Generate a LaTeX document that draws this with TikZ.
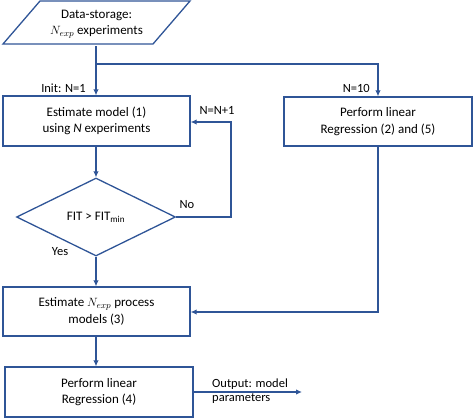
\documentclass[tikz,border=0pt]{standalone}
\usepackage{fontspec}
\setmainfont{Carlito}
\usetikzlibrary{shapes.geometric,arrows.meta}
\definecolor{lineblue}{HTML}{2F5597}
\begin{document}
\begin{tikzpicture}[x=1pt,y=-1pt,
 box/.style={draw=lineblue,line width=1.3pt,rectangle,align=center,inner sep=0pt,font=\fontsize{13}{16.5}\selectfont},
 lbl/.style={font=\fontsize{12.5}{14}\selectfont,inner sep=0pt},
 conn/.style={draw=lineblue,line width=1.8pt,-{Latex[length=6pt,width=5.5pt]}},
 seg/.style={draw=lineblue,line width=1.8pt}]
\useasboundingbox (0,0) rectangle (474,418);
% data storage parallelogram
\draw[lineblue,line width=1.3pt] (3,44) -- (153,44) -- (190,1) -- (40,1) -- cycle;
\node[align=center,inner sep=0pt,minimum width=187pt,minimum height=43pt,font=\fontsize{13}{16}\selectfont] (ds) at (96.5,24.5) {Data-storage:\\$N_{exp}$ experiments};
% boxes
\node[box,minimum width=187pt,minimum height=50pt] (b1) at (96.5,121) {Estimate model (1)\\using \textit{N} experiments};
\node[box,minimum width=188pt,minimum height=49pt] (b2) at (378,121.5) {Perform linear\\Regression (2) and (5)};
\node[draw=lineblue,line width=1.3pt,diamond,minimum width=159pt,minimum height=78pt,inner sep=0pt,font=\fontsize{13}{15}\selectfont] (d) at (96,217) {FIT > FIT\textsubscript{min}};
\node[box,minimum width=187pt,minimum height=49pt] (b3) at (96.5,311.5) {Estimate $N_{exp}$ process\\models (3)};
\node[box,minimum width=188pt,minimum height=50pt] (b4) at (99,392) {Perform linear\\Regression (4)};
% coordinates
\coordinate (j) at (96,64);
\coordinate (jr) at (378,64);
\coordinate (lp) at (231,217);
\coordinate (lt) at (231,122);
\coordinate (rb) at (378,312);
\coordinate (out) at (302,392);
% connectors
\draw[conn] (ds.south -| j) -- (b1.north -| j);
\draw[conn] (j) -- (jr) -- (b2.north);
\draw[conn] (b1.south -| d.north) -- (d.north);
\draw[conn] (d.east) -- (lp) -- (lt) -- (b1.east |- lt);
\draw[conn] (d.south) -- (b3.north -| d.south);
\draw[conn] (b2.south) -- (rb) -- (b3.east |- rb);
\draw[conn] (b3.south -| d.south) -- (b4.north -| d.south);
\draw[conn] (b4.east) -- (out);
% labels
\node[lbl,anchor=east] (linit) at (86,88) {Init: N=1};
\node[lbl,anchor=east] (l10) at (370,88) {N=10};
\node[lbl] (lnn) at (217,110) {N=N+1};
\node[lbl] (lno) at (187,205) {No};
\node[lbl] (lyes) at (60,252) {Yes};
\node[lbl,anchor=north west,align=left,font=\fontsize{12.5}{13.5}\selectfont] (lout) at (212,379) {Output: model\\parameters};
\end{tikzpicture}
\end{document}
